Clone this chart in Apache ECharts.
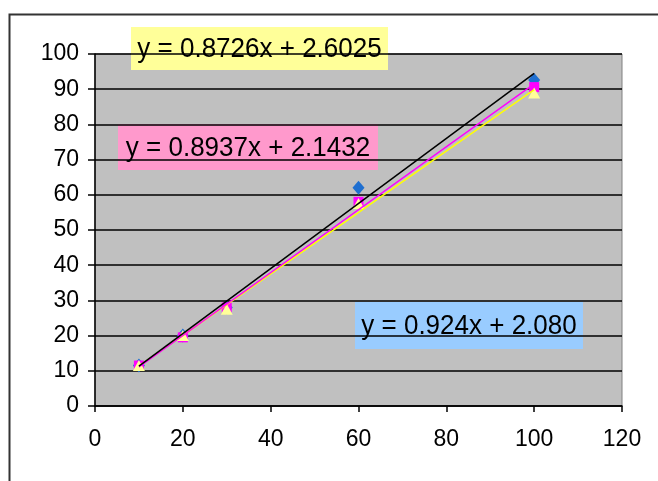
<!DOCTYPE html>
<html>
<head>
<meta charset="utf-8">
<script src="https://cdn.jsdelivr.net/npm/echarts@6/dist/echarts.min.js"></script>
<style>
  html, body { margin: 0; padding: 0; background: #fff; }
  #chart { width: 658px; height: 481px; }
</style>
</head>
<body>
<div id="chart"></div>
<script>
// Measurement x positions shared by all three runs
const xValues = [10, 20, 30, 60, 100];

// Observed values for each run
const blueValues = [11.5, 20, 28, 62, 92.6];
const pinkValues = [11.5, 19.5, 28, 58, 90.6];
const yellowValues = [11.5, 20, 27.5, 57.5, 88.9];

// Linear trendline coefficients (slope, intercept) as printed in the equation boxes
const blueFit = [0.924, 2.080];
const pinkFit = [0.8937, 2.1432];
const yellowFit = [0.8726, 2.6025];

const blueEq = 'y = 0.924x + 2.080';
const pinkEq = 'y = 0.8937x + 2.1432';
const yellowEq = 'y = 0.8726x + 2.6025';

// Axis tick settings
const xTicks = { min: 0, max: 120, interval: 20 };
const yTicks = { min: 0, max: 100, interval: 10 };

const pairs = vals => xValues.map((x, i) => [x, vals[i]]);
const fitLine = fit => {
  const x0 = xValues[0], x1 = xValues[xValues.length - 1];
  return [[x0, fit[0] * x0 + fit[1]], [x1, fit[0] * x1 + fit[1]]];
};

const FONT = '"Liberation Sans", Arial, sans-serif';

const chart = echarts.init(document.getElementById('chart'), null, { renderer: 'canvas' });

function scatter(name, vals, symbol, size, color, z) {
  return {
    name, type: 'scatter', data: pairs(vals), symbol, symbolSize: size,
    itemStyle: { color, opacity: 1 }, z, silent: true
  };
}
function trend(name, fit, color, z) {
  return {
    name, type: 'line', data: fitLine(fit), symbol: 'none',
    lineStyle: { color, width: 1.5 }, z, silent: true, animation: false
  };
}
function eqBox(text, left, top, w, h, bg) {
  return {
    type: 'group', left, top, z: 100,
    children: [
      { type: 'rect', shape: { x: 0, y: 0, width: w, height: h }, style: { fill: bg } },
      { type: 'text', x: w / 2, y: h / 2 + 1, scaleY: 1.08,
        style: { text, fill: '#000', font: '26px ' + FONT, textAlign: 'center', textVerticalAlign: 'middle' } }
    ]
  };
}

chart.setOption({
  animation: false,
  backgroundColor: '#fff',
  grid: {
    left: 95, right: 36, top: 54, bottom: 75,
    show: true, backgroundColor: '#C0C0C0', borderColor: '#808080', borderWidth: 1
  },
  xAxis: {
    type: 'value', min: xTicks.min, max: xTicks.max, interval: xTicks.interval,
    axisLine: { show: true, onZero: false, lineStyle: { color: '#000', width: 1.5 } },
    axisTick: { show: true, length: 6, lineStyle: { color: '#000', width: 1.5 } },
    axisLabel: { color: '#000', fontFamily: FONT, fontSize: 23, margin: 22 },
    splitLine: { show: false }
  },
  yAxis: {
    type: 'value', min: yTicks.min, max: yTicks.max, interval: yTicks.interval,
    axisLine: { show: true, onZero: false, lineStyle: { color: '#000', width: 1.5 } },
    axisTick: { show: true, length: 7, lineStyle: { color: '#000', width: 1.5 } },
    axisLabel: { color: '#000', fontFamily: FONT, fontSize: 23, margin: 16 },
    splitLine: { show: true, lineStyle: { color: '#000', width: 1.5 } }
  },
  series: [
    scatter('blue', blueValues, 'diamond', [12, 14], '#1F6FD0', 3),
    scatter('pink', pinkValues, 'rect', 10, '#FF00FF', 4),
    scatter('yellow', yellowValues, 'triangle', [12, 11], '#FFFF99', 5),
    trend('yellowFit', yellowFit, '#FFFF00', 6),
    trend('pinkFit', pinkFit, '#FF00FF', 7),
    trend('blueFit', blueFit, '#000000', 8)
  ],
  graphic: [
    {
      type: 'rect', left: 7, top: 12, z: -1,
      shape: { x: 0, y: 0, width: 700, height: 520 },
      style: { fill: 'none', stroke: '#333', lineWidth: 2 }
    },
    eqBox(yellowEq, 131, 27, 257, 43, '#FFFF99'),
    eqBox(pinkEq, 118, 124, 260, 46, '#FF99CC'),
    eqBox(blueEq, 355, 302, 228, 47, '#99CCFF')
  ]
});
</script>
</body>
</html>
